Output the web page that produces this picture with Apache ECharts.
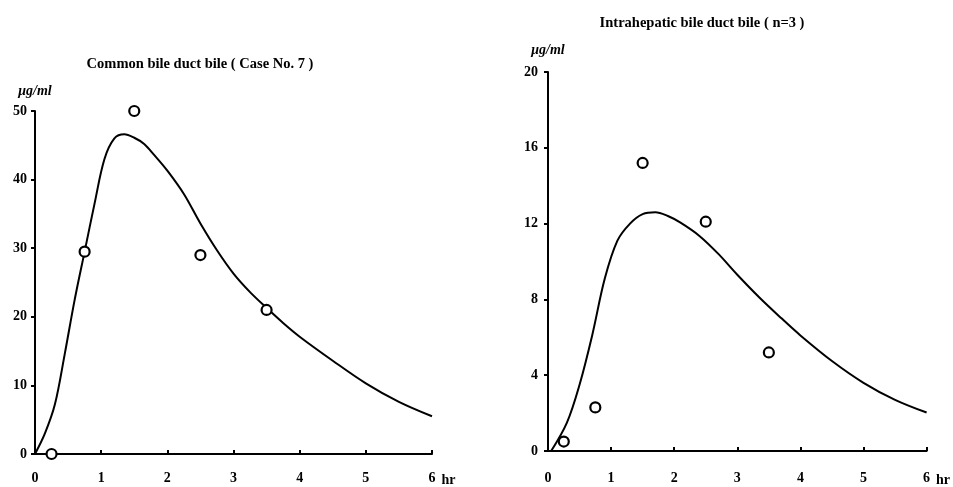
<!DOCTYPE html>
<html>
<head>
<meta charset="utf-8">
<script src="https://cdn.jsdelivr.net/npm/echarts@6/dist/echarts.min.js"></script>
<style>
  html, body { margin: 0; padding: 0; background: #fff; }
  #chart { width: 953px; height: 487px; }
</style>
</head>
<body>
<div id="chart"></div>
<script>
// 采样时间 (hr) 与实测值 (μg/ml)
const commonTimes = [0.25, 0.75, 1.5, 2.5, 3.5]
const commonObserved = [0, 29.5, 50, 29, 21]
const intraTimes = [0.25, 0.75, 1.5, 2.5, 3.5]
const intraObserved = [0.5, 2.3, 15.2, 12.1, 5.2]

// 拟合曲线
const commonFitT = [0, 0.15, 0.3, 0.45, 0.6, 0.75, 0.9, 1.05, 1.2, 1.35, 1.5, 1.65, 1.8, 2.0, 2.25, 2.5, 2.75, 3.0, 3.25, 3.5, 3.75, 4.0, 4.5, 5.0, 5.5, 6]
const commonFitV = [0, 3, 7.2, 14.6, 22.5, 29.5, 36.5, 43, 46, 46.6, 46.1, 45.2, 43.6, 41.3, 37.9, 33.6, 29.7, 26.3, 23.6, 21.3, 19.1, 17.1, 13.6, 10.3, 7.6, 5.5]
const intraFitT = [0.05, 0.3, 0.5, 0.7, 0.9, 1.1, 1.3, 1.5, 1.7, 1.9, 2.1, 2.4, 2.7, 3.0, 3.35, 3.7, 4.0, 4.5, 5.0, 5.5, 6]
const intraFitV = [0, 1.5, 3.5, 6.1, 9.1, 11.1, 12.0, 12.5, 12.6, 12.4, 12.05, 11.35, 10.4, 9.3, 8.1, 7.0, 6.1, 4.75, 3.6, 2.7, 2.03]

const titles = ['Common bile duct bile ( Case No. 7 )', 'Intrahepatic bile duct bile ( n=3 )']
const unit = 'μg/ml'

const font = '"Liberation Serif", "DejaVu Serif", serif'
const zip = (a, b) => a.map((v, i) => [v, b[i]])

let chart = echarts.init(document.getElementById('chart'))

function xAxis (gridIndex, margin) {
  return {
    type: 'value',
    gridIndex: gridIndex,
    min: 0,
    max: 6,
    interval: 1,
    name: 'hr',
    nameLocation: 'end',
    nameGap: 4,
    nameTextStyle: { color: '#000', fontFamily: font, fontWeight: 'bold', fontSize: 14, verticalAlign: 'top', padding: [margin + 2, 0, 0, 0] },
    axisLine: { lineStyle: { color: '#000', width: 2 } },
    axisTick: { inside: true, length: 4, lineStyle: { color: '#000', width: 2 } },
    axisLabel: { color: '#000', fontFamily: font, fontWeight: 'bold', fontSize: 14, margin: margin },
    splitLine: { show: false }
  }
}

function yAxis (gridIndex, max, interval, nameGap, margin) {
  return {
    type: 'value',
    gridIndex: gridIndex,
    min: 0,
    max: max,
    interval: interval,
    name: unit,
    nameLocation: 'end',
    nameGap: nameGap,
    nameTextStyle: { color: '#000', fontFamily: font, fontWeight: 'bold', fontStyle: 'italic', fontSize: 14 },
    axisLine: { show: true, lineStyle: { color: '#000', width: 2 } },
    axisTick: { show: true, length: 4, lineStyle: { color: '#000', width: 2 } },
    axisLabel: { color: '#000', fontFamily: font, fontWeight: 'bold', fontSize: 14, margin: margin },
    splitLine: { show: false }
  }
}

function fitSeries (idx, t, v) {
  return {
    type: 'line',
    xAxisIndex: idx,
    yAxisIndex: idx,
    data: zip(t, v),
    smooth: 0.35,
    symbol: 'none',
    lineStyle: { color: '#000', width: 2 },
    z: 2
  }
}

function pointSeries (idx, t, v) {
  return {
    type: 'scatter',
    xAxisIndex: idx,
    yAxisIndex: idx,
    data: zip(t, v),
    symbol: 'circle',
    symbolSize: 10,
    clip: false,
    itemStyle: { color: '#fff', borderColor: '#000', borderWidth: 2.2, opacity: 1 },
    z: 5
  }
}

let options = {
  backgroundColor: '#fff',
  animation: false,
  title: [
    { text: titles[0], left: 195, top: 52, textAlign: 'center', textStyle: { fontFamily: font, fontWeight: 'bold', fontSize: 14.5, color: '#000' } },
    { text: titles[1], left: 697, top: 11, textAlign: 'center', textStyle: { fontFamily: font, fontWeight: 'bold', fontSize: 14.5, color: '#000' } }
  ],
  grid: [
    { left: 35, right: 521, top: 111, bottom: 33 },
    { left: 548, right: 24, top: 72, bottom: 31 }
  ],
  xAxis: [xAxis(0, 17), xAxis(1, 20)],
  yAxis: [yAxis(0, 50, 10, 13, 8), yAxis(1, 20, 4, 15, 10)],
  series: [
    fitSeries(0, commonFitT, commonFitV),
    pointSeries(0, commonTimes, commonObserved),
    fitSeries(1, intraFitT, intraFitV),
    pointSeries(1, intraTimes, intraObserved)
  ]
}

chart.setOption(options)
</script>
</body>
</html>
